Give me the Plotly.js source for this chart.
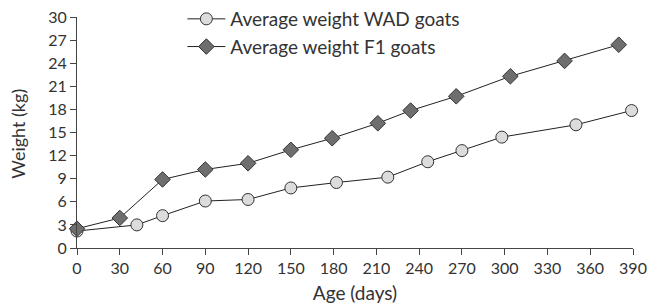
<!DOCTYPE html>
<html><head><meta charset="utf-8">
<script src="https://cdn.plot.ly/plotly-3.0.1.min.js"></script>
<style>body{margin:0;background:#fff}#c{width:649px;height:307px}</style>
</head><body><div id="c"></div>
<script>
const wadAge = [0, 42, 60, 90, 120, 150, 182, 218, 246, 270, 298, 350, 389];
const wadWeight = [2.2, 3.0, 4.2, 6.1, 6.3, 7.8, 8.5, 9.2, 11.2, 12.65, 14.4, 16.0, 17.85];
const f1Age = [0, 30, 60, 90, 120, 150, 179, 211, 234, 266, 304, 342, 380];
const f1Weight = [2.5, 3.9, 8.9, 10.2, 11.0, 12.75, 14.25, 16.2, 17.85, 19.7, 22.3, 24.3, 26.4];
const xTicks = [0,30,60,90,120,150,180,210,240,270,300,330,360,390];
const yTicks = [0,3,6,9,12,15,18,21,24,27,30];
const xTitle = 'Age (days)';
const yTitle = 'Weight (kg)';

const font = {family: 'Lato, "Open Sans", sans-serif', color: '#333'};
const traces = [
  {x: wadAge, y: wadWeight, name: 'Average weight WAD goats', mode: 'lines+markers',
   line: {color: '#222', width: 1},
   marker: {symbol: 'circle', size: 12, color: '#dcdcdc', line: {color: '#333', width: 1}},
   cliponaxis: false},
  {x: f1Age, y: f1Weight, name: 'Average weight F1 goats', mode: 'lines+markers',
   line: {color: '#222', width: 1},
   marker: {symbol: 'diamond', size: 12, color: '#6e6e6e', line: {color: '#333', width: 1}},
   cliponaxis: false}
];
const layout = {
  width: 649, height: 307,
  margin: {l: 77, r: 16, t: 17, b: 59, autoexpand: false},
  paper_bgcolor: '#fff', plot_bgcolor: '#fff',
  font: Object.assign({size: 16}, font),
  showlegend: true,
  legend: {xref: 'container', yref: 'container', x: 0.281, y: 1.0, xanchor: 'left', yanchor: 'top',
           bgcolor: 'rgba(0,0,0,0)', borderwidth: 0,
           font: Object.assign({size: 19}, font), itemwidth: 38, tracegroupgap: 0},
  xaxis: {range: [0, 390], tickvals: xTicks, ticktext: xTicks.map(String),
          showgrid: false, zeroline: false, showline: true, linecolor: '#444', linewidth: 1,
          ticks: 'outside', ticklen: 6, tickcolor: '#444',
          tickfont: Object.assign({size: 16}, font),
          title: {text: xTitle, font: Object.assign({size: 19}, font), standoff: 10}},
  yaxis: {range: [0, 30], tickvals: yTicks, ticktext: yTicks.map(String),
          showgrid: false, zeroline: false, showline: true, linecolor: '#444', linewidth: 1,
          ticks: 'outside', ticklen: 6, tickcolor: '#444',
          tickfont: Object.assign({size: 16}, font)},
  annotations: [{text: yTitle, xref: 'paper', yref: 'paper', x: -0.106, y: 0.495,
                 xanchor: 'center', yanchor: 'middle', textangle: -90, showarrow: false,
                 font: Object.assign({size: 18}, font)}]
};
Plotly.newPlot('c', traces, layout, {displayModeBar: false, staticPlot: true});
</script></body></html>
